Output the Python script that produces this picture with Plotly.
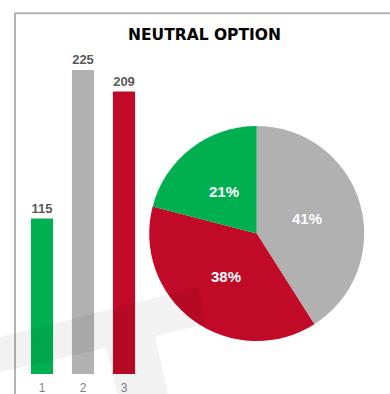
import math
import plotly.graph_objects as go

# Responses to the neutral option
categories = ["1", "2", "3"]
counts = [115, 225, 209]
colors = ["#00AF50", "#B1B1B1", "#C00A28"]

# Pie order: gray, red, green (clockwise from 12 o'clock)
pie_order = [1, 2, 0]
pie_values = [counts[i] for i in pie_order]
pie_colors = [colors[i] for i in pie_order]
pie_labels = [categories[i] for i in pie_order]

W, H = 390, 394
FONT = "Liberation Sans, Arial"


def px(x, y):
    """Pixel position (top-left origin) to paper fractions."""
    return x / W, (H - y) / H


# Pie geometry in pixels
pie_cx, pie_cy, pie_r = 256.7, 233.5, 107.5

fig = go.Figure()

fig.add_trace(go.Bar(
    x=categories,
    y=counts,
    marker=dict(color=colors, line=dict(width=0)),
    width=0.54,
    text=[str(v) for v in counts],
    textposition="outside",
    textfont=dict(family=FONT, size=13, color="#595959"),
    texttemplate="<b>%{text}</b>",
    cliponaxis=False,
    xaxis="x", yaxis="y",
    showlegend=False,
    hoverinfo="skip",
))

fig.add_trace(go.Pie(
    values=pie_values,
    labels=pie_labels,
    marker=dict(colors=pie_colors, line=dict(width=0)),
    sort=False,
    direction="clockwise",
    rotation=0,
    textinfo="none",
    domain=dict(x=[(pie_cx - pie_r) / W, (pie_cx + pie_r) / W],
                y=[(H - pie_cy - pie_r) / H, (H - pie_cy + pie_r) / H]),
    showlegend=False,
    hoverinfo="skip",
))

# Percentage labels placed halfway out along each slice's middle angle
annotations = []
total = sum(pie_values)
start = 0.0
for v in pie_values:
    frac = v / total
    mid = (start + frac / 2) * 2 * math.pi
    lx = pie_cx + 0.49 * pie_r * math.sin(mid)
    ly = pie_cy - 0.49 * pie_r * math.cos(mid)
    ax, ay = px(lx, ly)
    annotations.append(dict(
        text=f"<b>{round(frac * 100)}%</b>", xref="paper", yref="paper",
        x=ax, y=ay, xanchor="center", yanchor="middle", showarrow=False,
        font=dict(family=FONT, size=15, color="white")))
    start += frac

tx, ty = px(204, 35)
annotations.append(dict(
    text="<b>NEUTRAL OPTION</b>", xref="paper", yref="paper",
    x=tx, y=ty, xanchor="center", yanchor="middle", showarrow=False,
    font=dict(family="DejaVu Sans", size=15.5, color="black")))

# Faint backdrop logo
logo_pts = [(0, 337), (198, 287), (206, 324), (155, 336), (168, 394),
            (117, 394), (106, 348), (0, 372)]
logo_path = "M " + " L ".join(
    f"{px(x, y)[0]:.4f},{px(x, y)[1]:.4f}" for x, y in logo_pts) + " Z"

fx0, _ = px(15, 0)
_, fy1 = px(0, 13.3)

fig.update_layout(
    width=W, height=H,
    margin=dict(l=0, r=0, t=0, b=0),
    paper_bgcolor="white",
    plot_bgcolor="rgba(0,0,0,0)",
    xaxis=dict(
        domain=[21.5 / W, 144.5 / W],
        range=[-0.5, 2.5],
        showgrid=False, zeroline=False, showline=False,
        ticks="", tickfont=dict(family=FONT, size=12, color="#7F7F7F"),
        ticklabelstandoff=5,
    ),
    yaxis=dict(
        domain=[(H - 374) / H, (H - 36.2) / H],
        range=[0, 250],
        visible=False,
    ),
    shapes=[
        dict(type="rect", xref="paper", yref="paper",
             x0=fx0, x1=1.2, y0=-0.2, y1=fy1,
             line=dict(color="#B3B3B3", width=2), layer="below"),
        dict(type="path", xref="paper", yref="paper", path=logo_path,
             fillcolor="rgba(0,0,0,0.05)", line=dict(width=0), layer="above"),
    ],
    annotations=annotations,
)

fig.write_html("out.html")
